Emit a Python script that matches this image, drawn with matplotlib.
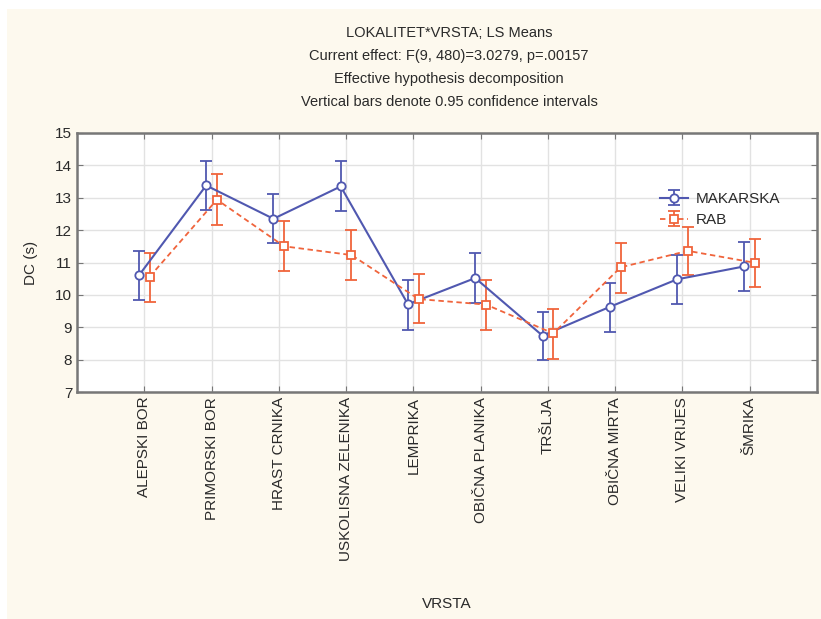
import matplotlib
matplotlib.use("Agg")
import matplotlib.pyplot as plt
from matplotlib.patches import Rectangle
import numpy as np

plt.rcParams['font.family'] = ['Liberation Sans', 'DejaVu Sans']

categories = ["ALEPSKI BOR", "PRIMORSKI BOR", "HRAST CRNIKA", "USKOLISNA ZELENIKA",
              "LEMPRIKA", "OBIČNA PLANIKA", "TRŠLJA", "OBIČNA MIRTA", "VELIKI VRIJES", "ŠMRIKA"]

mak_mean = [10.60, 13.38, 12.35, 13.35, 9.71, 10.52, 8.74, 9.63, 10.48, 10.88]
mak_low  = [9.84, 12.61, 11.59, 12.58, 8.93, 9.75, 7.98, 8.86, 9.73, 10.11]
mak_high = [11.36, 14.13, 13.13, 14.13, 10.45, 11.28, 9.48, 10.38, 11.23, 11.64]

rab_mean = [10.56, 12.94, 11.50, 11.23, 9.87, 9.70, 8.81, 10.85, 11.36, 10.99]
rab_low  = [9.78, 12.17, 10.74, 10.45, 9.12, 8.93, 8.02, 10.07, 10.61, 10.23]
rab_high = [11.30, 13.72, 12.27, 12.00, 10.64, 10.45, 9.55, 11.59, 12.10, 11.74]

title_lines = ["LOKALITET*VRSTA; LS Means",
               "Current effect: F(9, 480)=3.0279, p=.00157",
               "Effective hypothesis decomposition",
               "Vertical bars denote 0.95 confidence intervals"]

blue = "#5058b0"
red = "#f0643c"
cream = "#fdf9ee"
txt = "#2a2a2a"

fig = plt.figure(figsize=(8.21, 6.19), dpi=100)
fig.patch.set_facecolor("white")
fig.patches.append(Rectangle((7/821, 0), 1, 1 - 9/619, transform=fig.transFigure,
                             facecolor=cream, edgecolor="none", zorder=-10))

ax = fig.add_axes([77/821, 1 - 392/619, (817-77)/821, (392-133)/619])
ax.set_facecolor("white")

x = np.arange(len(categories))
off = 0.08
mm = np.array(mak_mean); rm = np.array(rab_mean)
mak_err = [mm - np.array(mak_low), np.array(mak_high) - mm]
rab_err = [rm - np.array(rab_low), np.array(rab_high) - rm]

ax.errorbar(x - off, mm, yerr=mak_err, color=blue, lw=1.5, ls='-', marker='o',
            mfc='white', mec=blue, ms=6, mew=1.3, capsize=4, elinewidth=1.3,
            capthick=1.3, label="MAKARSKA", zorder=3)
ax.errorbar(x + off, rm, yerr=rab_err, color=red, lw=1.3, ls=(0, (3, 2)), marker='s',
            mfc='white', mec=red, ms=6, mew=1.3, capsize=4, elinewidth=1.3,
            capthick=1.3, label="RAB", zorder=3)

ax.set_xlim(-1, 10)
ax.set_ylim(7, 15)
ax.set_xticks(x)
ax.set_xticklabels(categories, rotation=90, fontsize=11, color=txt)
ax.set_yticks(range(7, 16))
ax.tick_params(axis='y', labelsize=11, colors=txt, direction='in', right=True, length=4)
ax.tick_params(axis='x', direction='in', top=True, length=4)
ax.tick_params(axis='both', color="#777777")
ax.grid(True, color="#e2e2e2", lw=1)
ax.set_axisbelow(True)
for s in ax.spines.values():
    s.set_color("#777777")
    s.set_linewidth(1.8)

ax.set_ylabel("DC (s)", fontsize=11, color=txt, labelpad=12)
fig.text(447/821, 1 - 604/619, "VRSTA", ha='center', va='center', fontsize=11, color=txt)

for i, t in enumerate(title_lines):
    fig.text(449/821, 1 - (33 + 23*i)/619, t, ha='center', va='center', fontsize=10.5, color=txt)

leg = ax.legend(loc='upper left', bbox_to_anchor=(0.78, 0.795), frameon=False,
                fontsize=11, handlelength=1.8, handletextpad=0.5, labelspacing=0.45,
                borderaxespad=0)
for t in leg.get_texts():
    t.set_color(txt)

fig.savefig("out.png", dpi=100, facecolor=fig.get_facecolor())
